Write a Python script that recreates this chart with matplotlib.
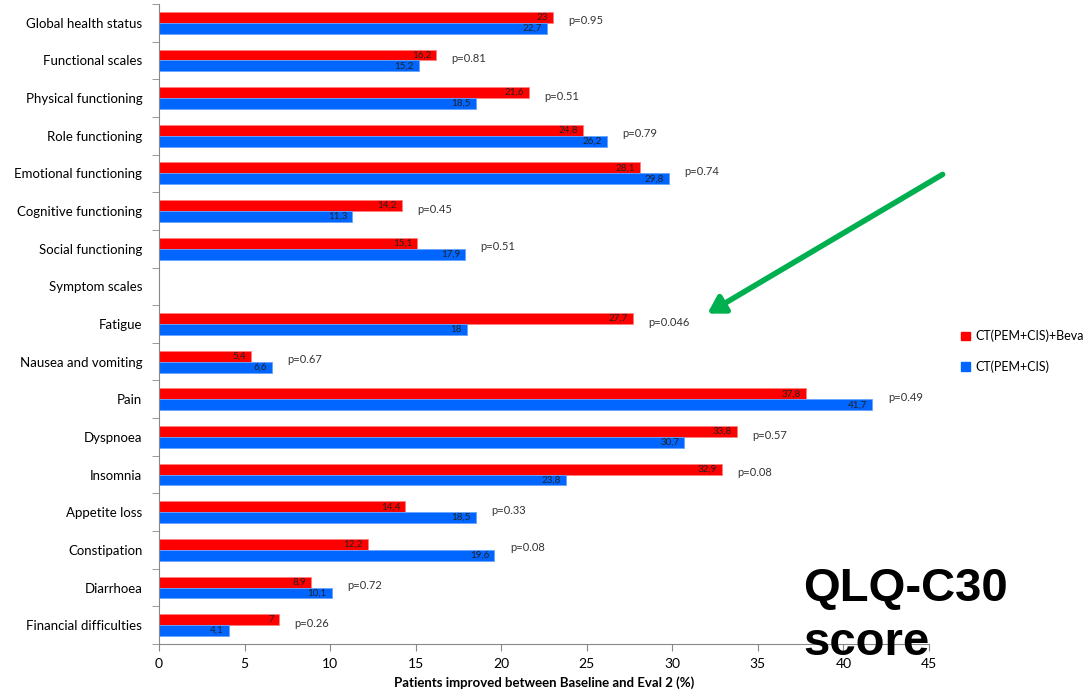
import numpy as np
import matplotlib
matplotlib.use("Agg")
import matplotlib.pyplot as plt
from matplotlib.patches import Patch

plt.rcParams['font.family'] = ['Lato', 'DejaVu Sans']

# QLQ-C30 items, % of patients improved between baseline and eval 2
items = ["Global health status", "Functional scales", "Physical functioning",
         "Role functioning", "Emotional functioning", "Cognitive functioning",
         "Social functioning", "Symptom scales", "Fatigue", "Nausea and vomiting",
         "Pain", "Dyspnoea", "Insomnia", "Appetite loss", "Constipation",
         "Diarrhoea", "Financial difficulties"]
beva = [23, 16.2, 21.6, 24.8, 28.1, 14.2, 15.1, np.nan, 27.7, 5.4,
        37.8, 33.8, 32.9, 14.4, 12.2, 8.9, 7]
ctrl = [22.7, 15.2, 18.5, 26.2, 29.8, 11.3, 17.9, np.nan, 18, 6.6,
        41.7, 30.7, 23.8, 18.5, 19.6, 10.1, 4.1]
pvals = ["0.95", "0.81", "0.51", "0.79", "0.74", "0.45", "0.51", "",
         "0.046", "0.67", "0.49", "0.57", "0.08", "0.33", "0.08", "0.72", "0.26"]

red = "#FF0000"
blue = "#0066FF"
h = 0.29

fig = plt.figure(figsize=(10.87, 6.92), dpi=100)
ax = fig.add_axes([0.1463, 0.0694, 0.7083, 0.9248])

y = np.arange(len(items))
ax.barh(y - h / 2, beva, height=h, color=red, edgecolor="#FF8080", linewidth=0.6)
ax.barh(y + h / 2, ctrl, height=h, color=blue, edgecolor="#66A3FF", linewidth=0.6)

def fmt(v):
    return f"{v:g}".replace(".", ",")

for i in range(len(items)):
    if np.isnan(beva[i]):
        continue
    ax.text(beva[i] - 0.3, y[i] - h / 2, fmt(beva[i]), ha="right", va="center",
            fontsize=7, color="#222222")
    ax.text(ctrl[i] - 0.3, y[i] + h / 2, fmt(ctrl[i]), ha="right", va="center",
            fontsize=7, color="#222222")
    ax.text(max(beva[i], ctrl[i]) + 0.9, y[i] - 0.05, "p=" + pvals[i],
            ha="left", va="center", fontsize=8, color="#333333")

ax.set_ylim(len(items) - 0.5, -0.5)
ax.set_xlim(0, 45)
ax.set_xticks(np.arange(0, 46, 5))
ax.set_yticks(y)
ax.set_yticklabels(items, fontsize=9.5)
ax.set_yticks(np.arange(-0.5, len(items), 1), minor=True)
ax.tick_params(axis="y", which="major", length=0, pad=12)
ax.tick_params(axis="y", which="minor", length=5, color="#888888")
ax.tick_params(axis="x", length=5, color="#888888", labelsize=10, pad=5)
for s in ["top", "right"]:
    ax.spines[s].set_visible(False)
for s in ["left", "bottom"]:
    ax.spines[s].set_color("#888888")
ax.set_xlabel("Patients improved between Baseline and Eval 2 (%)",
              fontsize=9.5, fontweight="bold", labelpad=5)

handles = [Patch(color=red), Patch(color=blue)]
fig.legend(handles, ["CT(PEM+CIS)+Beva", "CT(PEM+CIS)"], loc="center left",
           bbox_to_anchor=(0.874, 0.492), frameon=False, fontsize=9,
           handlelength=0.7, handleheight=0.7, handletextpad=0.4,
           labelspacing=1.45)

# green arrow pointing at Fatigue
ax.annotate("", xy=(705, 377), xytext=(945, 519),
            xycoords="figure pixels", textcoords="figure pixels",
            arrowprops=dict(arrowstyle="-|>,head_length=1.0,head_width=0.6",
                            color="#00B050", lw=4))

fig.text(803, 91, "QLQ-C30", transform=None, fontsize=34, fontweight="bold",
         family="Liberation Sans", ha="left", va="baseline", zorder=10)
fig.text(803, 37, "score", transform=None, fontsize=34, fontweight="bold",
         family="Liberation Sans", ha="left", va="baseline", zorder=10)

fig.savefig("out.png", dpi=100)
